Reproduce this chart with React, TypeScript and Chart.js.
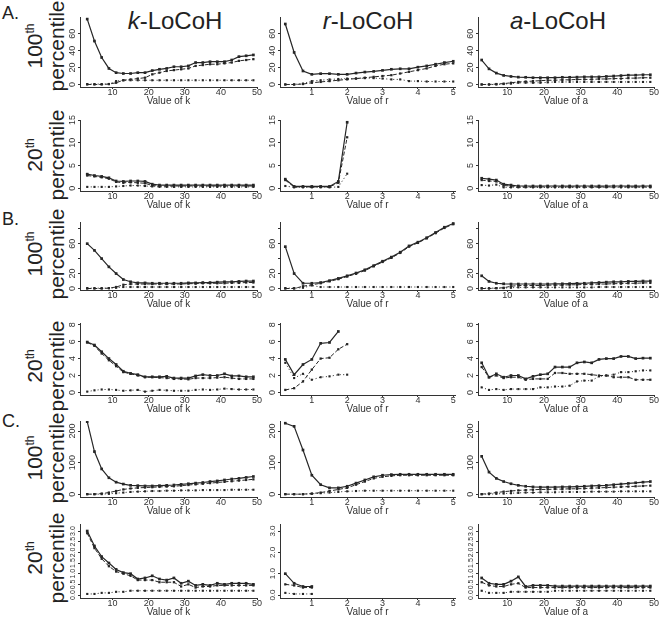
import React, { useEffect, useRef } from 'react';
import { Chart, registerables } from 'chart.js';
Chart.register(...registerables);

// ---------- x values ----------
const kValues = [3, 5, 7, 9, 11, 13, 15, 17, 19, 21, 23, 25, 27, 29, 31, 33, 35, 37, 39, 41, 43, 45, 47, 49];
const rValues = [0.25, 0.5, 0.75, 1, 1.25, 1.5, 1.75, 2, 2.25, 2.5, 2.75, 3, 3.25, 3.5, 3.75, 4, 4.25, 4.5, 4.75, 5];
const aValues = [3, 5, 7, 9, 11, 13, 15, 17, 19, 21, 23, 25, 27, 29, 31, 33, 35, 37, 39, 41, 43, 45, 47, 49];

// ---------- tick values / labels ----------
const kTicks = [10, 20, 30, 40, 50];
const kTickLabels = ['10', '20', '30', '40', '50'];
const rTicks = [1, 2, 3, 4, 5];
const rTickLabels = ['1', '2', '3', '4', '5'];
const aTicks = [10, 20, 30, 40, 50];
const aTickLabels = ['10', '20', '30', '40', '50'];

const yTicksA100 = [0, 20, 40, 60];
const yLabelsA100 = ['0', '20', '40', '60'];
const yTicksA20 = [0, 5, 10, 15];
const yLabelsA20 = ['0', '5', '10', '15'];
const yTicksB100 = [0, 20, 40, 60, 80];
const yLabelsB100 = ['0', '20', '', '60', ''];
const yTicksB20 = [0, 2, 4, 6, 8];
const yLabelsB20 = ['0', '2', '4', '6', '8'];
const yTicksC100 = [0, 100, 200];
const yLabelsC100 = ['0', '100', '200'];
const yTicksC20 = [0, 0.5, 1, 1.5, 2, 2.5, 3];
const yLabelsC20 = ['0.0', '0.5', '1.0', '1.5', '2.0', '2.5', '3.0'];
const yTicksC20r = [0, 1, 2, 3];
const yLabelsC20r = ['0.0', '1.0', '2.0', '3.0'];

// ---------- A: 100th percentile ----------
const kA100Solid = [77.5, 51.5, 32, 19, 14, 13, 13, 14, 14, 16.5, 18, 19, 21, 21, 22, 26, 26, 27, 27, 27, 29, 33, 34, 35];
const kA100Dashed = [0, 0, 0, 0.5, 2, 5, 6, 7, 8, 12, 14, 16, 17, 18, 19, 22, 23, 24, 24, 25, 26, 28, 29, 30];
const kA100Dotted = [0.5, 0.5, 0.5, 0.5, 4, 5, 5, 5, 5, 5, 5, 5, 5, 5, 5, 5, 5, 5, 5, 5, 5, 5, 5, 5];
const rA100Solid = [71.7, 38, 16, 12, 12.8, 12.8, 12, 12, 13.5, 14.7, 15.5, 16.7, 18, 18.6, 18.6, 20.5, 22, 24, 26, 27.5];
const rA100Dashed = [0, 0, 0.5, 2, 3, 4, 5, 6, 7, 8, 9, 10, 11, 13, 15, 17, 19, 22, 24, 25];
const rA100Dotted = [0, 0, 1, 4, 5, 6, 6.5, 7, 7, 7.5, 7.5, 7, 6, 6, 4, 4, 3.5, 3.5, 3.5, 3.5];
const aA100Solid = [29, 18.5, 13.5, 10.7, 9.5, 8.7, 8.5, 8, 8, 8, 8, 8.5, 8.5, 8.7, 9, 9, 9, 9.5, 10, 10.5, 11, 11, 11.5, 11.5];
const aA100Dashed = [0, 0, 0.5, 1, 2, 3, 3.5, 4, 4.5, 5, 5, 5.5, 5.5, 6, 6, 6, 6.5, 6.5, 7, 7, 7.5, 7.5, 8, 8];
const aA100Dotted = [0, 0, 0, 0.5, 1, 2, 2, 2, 2, 2.5, 3, 3, 3, 3, 3, 3, 3, 3, 3, 3, 3, 3, 3, 3];

// ---------- A: 20th percentile ----------
const kA20Solid = [3.1, 2.8, 2.6, 2.3, 1.6, 1.5, 1.6, 1.6, 1.5, 0.9, 0.7, 0.7, 0.7, 0.7, 0.7, 0.7, 0.7, 0.7, 0.7, 0.7, 0.7, 0.7, 0.7, 0.7];
const kA20Dashed = [2.8, 2.6, 2.4, 2.1, 1.4, 1.2, 1.3, 1.2, 1.1, 0.6, 0.5, 0.5, 0.5, 0.5, 0.5, 0.5, 0.5, 0.5, 0.5, 0.5, 0.5, 0.5, 0.5, 0.5];
const kA20Dotted = [0.3, 0.3, 0.3, 0.3, 0.4, 0.5, 0.6, 0.6, 0.5, 0.4, 0.3, 0.3, 0.3, 0.3, 0.3, 0.3, 0.3, 0.3, 0.3, 0.3, 0.3, 0.3, 0.3, 0.3];
const rA20Solid = [2.0, 0.4, 0.4, 0.4, 0.4, 0.4, 1.5, 14.5];
const rA20Dashed = [1.8, 0.3, 0.3, 0.3, 0.3, 0.3, 1.2, 11.2];
const rA20Dotted = [0.5, 0.2, 0.2, 0.2, 0.2, 0.2, 0.3, 3.2];
const aA20Solid = [2.2, 2.0, 1.8, 0.9, 0.7, 0.5, 0.5, 0.5, 0.5, 0.5, 0.5, 0.5, 0.5, 0.5, 0.5, 0.5, 0.5, 0.5, 0.5, 0.5, 0.5, 0.5, 0.5, 0.5];
const aA20Dashed = [1.8, 1.6, 1.5, 0.6, 0.5, 0.3, 0.3, 0.3, 0.3, 0.3, 0.3, 0.3, 0.3, 0.3, 0.3, 0.3, 0.3, 0.3, 0.3, 0.3, 0.3, 0.3, 0.3, 0.3];
const aA20Dotted = [0.7, 0.6, 0.8, 0.2, 0.2, 0.2, 0.2, 0.2, 0.2, 0.2, 0.2, 0.2, 0.2, 0.2, 0.2, 0.2, 0.2, 0.2, 0.2, 0.2, 0.2, 0.2, 0.2, 0.2];

// ---------- B: 100th percentile ----------
const kB100Solid = [60, 51, 40, 29, 20, 12, 9, 7.5, 7.5, 7, 7, 7, 7, 7, 7.5, 7.5, 8, 8, 8.5, 9, 9, 9.5, 10, 10];
const kB100Dashed = [0, 0, 0, 0.5, 2, 5, 6, 6, 6, 6, 6, 6, 6, 6, 6.5, 6.5, 7, 7, 7, 7, 7.5, 7.5, 8, 8];
const kB100Dotted = [0.5, 0.5, 0.5, 0.5, 1, 2, 2, 2, 2, 2, 2, 2, 2, 2, 2, 2, 2, 2, 2, 2, 2, 2, 2, 2];
const rB100Solid = [56, 20, 7, 7, 8, 10.5, 13.5, 17, 20.7, 25, 30.6, 36.5, 42, 48.6, 57, 62, 68, 75, 82, 87];
const rB100Dashed = [0, 0, 3, 5, 7, 9.5, 12.5, 16, 19.7, 24, 29.6, 35.5, 41, 47.6, 56, 61, 67, 74, 81, 86];
const rB100Dotted = [0.5, 0.5, 1, 4, 2, 2, 2, 2, 2, 2, 2, 2, 2, 2, 2, 2, 2, 2, 2, 2];
const aB100Solid = [17, 9.5, 7, 6.3, 6, 6, 6, 6, 6, 6, 6.3, 6.3, 6.5, 6.8, 7, 7.5, 8, 8.5, 9, 9, 9.5, 9.5, 10, 10];
const aB100Dashed = [0, 0, 0.5, 1, 3, 4, 4, 4, 4, 4.5, 4.5, 4.5, 5, 5, 5.5, 5.5, 6, 6, 6.5, 6.5, 7, 7, 7.5, 7.5];
const aB100Dotted = [0.5, 0.5, 0.5, 0.5, 1, 1.5, 1.5, 1.5, 1.5, 1.5, 1.5, 1.5, 1.5, 1.5, 1.5, 1.5, 2, 2, 2, 2, 2, 2, 2, 2];

// ---------- B: 20th percentile ----------
const kB20Solid = [5.95, 5.6, 4.8, 4.0, 3.3, 2.5, 2.25, 2.1, 1.85, 1.85, 1.85, 1.9, 1.7, 1.7, 1.7, 1.95, 2.1, 2.0, 2.0, 2.2, 1.95, 1.95, 1.85, 1.85];
const kB20Dashed = [5.9, 5.5, 4.6, 3.8, 3.1, 2.4, 2.2, 2.0, 1.8, 1.8, 1.75, 1.7, 1.6, 1.6, 1.55, 1.7, 1.7, 1.7, 1.75, 1.8, 1.7, 1.6, 1.6, 1.6];
const kB20Dotted = [0.1, 0.25, 0.35, 0.35, 0.3, 0.2, 0.25, 0.3, 0.1, 0.2, 0.3, 0.25, 0.2, 0.2, 0.2, 0.3, 0.35, 0.3, 0.35, 0.45, 0.4, 0.35, 0.35, 0.35];
const rB20Solid = [3.9, 2.1, 3.3, 3.9, 5.8, 5.9, 7.2];
const rB20Dashed = [0.3, 0.5, 1.3, 2.7, 4.0, 4.1, 5.1, 5.7];
const rB20Dotted = [3.5, 1.7, 2.2, 1.5, 1.8, 1.9, 2.1, 2.1];
const aB20Solid = [3.5, 1.8, 2.2, 1.8, 2.0, 2.0, 1.6, 1.9, 2.1, 2.2, 3.0, 3.0, 3.0, 3.5, 3.6, 3.5, 3.9, 4.0, 4.0, 4.25, 4.25, 4.0, 4.05, 4.05];
const aB20Dashed = [3.0, 1.8, 2.0, 1.7, 1.8, 1.8, 1.5, 1.6, 1.6, 1.6, 2.3, 2.3, 2.2, 2.2, 2.2, 2.1, 2.0, 2.0, 1.8, 1.8, 1.8, 1.5, 1.5, 1.5];
const aB20Dotted = [0.6, 0.3, 0.4, 0.3, 0.4, 0.4, 0.4, 0.4, 0.6, 0.6, 0.7, 0.7, 0.8, 1.3, 1.4, 1.4, 1.9, 2.0, 2.1, 2.4, 2.4, 2.5, 2.6, 2.6];

// ---------- C: 100th percentile ----------
const kC100Solid = [230, 135, 80, 52, 38, 32, 28, 27, 26, 26, 27, 28, 29, 31, 33, 35, 37, 40, 42, 45, 48, 50, 53, 56];
const kC100Dashed = [0, 0, 2, 5, 10, 15, 18, 20, 21, 22, 23, 24, 25, 27, 29, 31, 33, 35, 37, 39, 41, 43, 45, 47];
const kC100Dotted = [0, 0, 0, 1, 3, 5, 7, 8, 9, 10, 10, 11, 11, 12, 12, 12, 13, 13, 13, 13, 14, 14, 14, 14];
const rC100Solid = [225, 215, 140, 60, 30, 20, 20, 25, 35, 45, 55, 60, 62, 63, 63, 63, 63, 63, 63, 63];
const rC100Dashed = [0, 0, 0, 2, 5, 10, 15, 20, 30, 40, 50, 55, 58, 60, 60, 60, 60, 60, 60, 60];
const rC100Dotted = [0, 0, 0, 1, 3, 5, 7, 9, 10, 11, 11, 11, 11, 11, 11, 11, 11, 11, 11, 11];
const aC100Solid = [120, 70, 50, 40, 33, 28, 25, 23, 22, 22, 22, 23, 23, 24, 25, 26, 27, 28, 30, 32, 34, 36, 38, 40];
const aC100Dashed = [0, 2, 5, 8, 10, 12, 13, 14, 15, 15, 16, 16, 17, 17, 18, 19, 20, 21, 22, 23, 24, 25, 26, 27];
const aC100Dotted = [0, 0, 1, 2, 3, 4, 5, 5, 6, 6, 6, 7, 7, 7, 7, 8, 8, 8, 8, 9, 9, 9, 9, 9];

// ---------- C: 20th percentile ----------
const kC20Solid = [3.0, 2.3, 1.8, 1.5, 1.2, 1.05, 1.0, 0.75, 0.8, 0.9, 0.75, 0.7, 0.8, 0.55, 0.65, 0.45, 0.5, 0.45, 0.55, 0.5, 0.55, 0.55, 0.55, 0.5];
const kC20Dashed = [2.9, 2.2, 1.7, 1.35, 1.1, 1.0, 0.9, 0.7, 0.7, 0.7, 0.6, 0.6, 0.6, 0.4, 0.5, 0.35, 0.4, 0.4, 0.45, 0.45, 0.45, 0.45, 0.45, 0.45];
const kC20Dotted = [0.05, 0.05, 0.1, 0.1, 0.15, 0.15, 0.2, 0.2, 0.2, 0.2, 0.2, 0.2, 0.2, 0.2, 0.2, 0.2, 0.2, 0.2, 0.2, 0.2, 0.2, 0.2, 0.2, 0.2];
const rC20Solid = [1.0, 0.55, 0.4, 0.4];
const rC20Dashed = [0.5, 0.45, 0.35, 0.35];
const rC20Dotted = [0.1, 0.05, 0.05, 0.05];
const aC20Solid = [0.8, 0.55, 0.5, 0.5, 0.65, 0.85, 0.4, 0.45, 0.45, 0.45, 0.42, 0.42, 0.42, 0.42, 0.42, 0.42, 0.42, 0.42, 0.42, 0.42, 0.42, 0.42, 0.42, 0.42];
const aC20Dashed = [0.6, 0.45, 0.4, 0.4, 0.5, 0.55, 0.35, 0.35, 0.35, 0.35, 0.35, 0.35, 0.35, 0.35, 0.35, 0.35, 0.35, 0.35, 0.35, 0.35, 0.35, 0.35, 0.35, 0.35];
const aC20Dotted = [0.2, 0.1, 0.1, 0.1, 0.15, 0.15, 0.15, 0.15, 0.15, 0.15, 0.2, 0.2, 0.2, 0.2, 0.2, 0.2, 0.2, 0.2, 0.2, 0.2, 0.2, 0.2, 0.2, 0.2];

// ---------- layout ----------
const FONT = '"Liberation Sans", Arial, Helvetica, sans-serif';
const INK = '#262626';
const COLS = {
  k: { left: 80, right: 257, xMin: 1, xMax: 50, xs: kValues, ticks: kTicks, labels: kTickLabels, title: 'Value of k' },
  r: { left: 280, right: 455, xMin: 0.1, xMax: 5.05, xs: rValues, ticks: rTicks, labels: rTickLabels, title: 'Value of r' },
  a: { left: 478, right: 654, xMin: 2, xMax: 50, xs: aValues, ticks: aTicks, labels: aTickLabels, title: 'Value of a' },
};
const ROWS = {
  A100: { top: 17, bottom: 87, yMin: -3, yMax: 80, ticks: yTicksA100, labels: yLabelsA100, labelFont: 9 },
  A20: { top: 120, bottom: 191, yMin: -0.6, yMax: 15, ticks: yTicksA20, labels: yLabelsA20, labelFont: 9 },
  B100: { top: 222, bottom: 290, yMin: -2, yMax: 89, ticks: yTicksB100, labels: yLabelsB100, labelFont: 9 },
  B20: { top: 323, bottom: 395, yMin: -0.3, yMax: 8.2, ticks: yTicksB20, labels: yLabelsB20, labelFont: 9 },
  C100: { top: 421, bottom: 497, yMin: -9, yMax: 232, ticks: yTicksC100, labels: yLabelsC100, labelFont: 9 },
  C20: { top: 524, bottom: 598, yMin: -0.14, yMax: 3.33, ticks: yTicksC20, labels: yLabelsC20, labelFont: 7 },
};

type PanelSpec = { col: keyof typeof COLS; row: keyof typeof ROWS; series: number[][]; yTicks?: number[]; yLabels?: string[]; labelFont?: number };

const PANELS: PanelSpec[] = [
  { col: 'k', row: 'A100', series: [kA100Solid, kA100Dashed, kA100Dotted] },
  { col: 'r', row: 'A100', series: [rA100Solid, rA100Dashed, rA100Dotted] },
  { col: 'a', row: 'A100', series: [aA100Solid, aA100Dashed, aA100Dotted] },
  { col: 'k', row: 'A20', series: [kA20Solid, kA20Dashed, kA20Dotted] },
  { col: 'r', row: 'A20', series: [rA20Solid, rA20Dashed, rA20Dotted] },
  { col: 'a', row: 'A20', series: [aA20Solid, aA20Dashed, aA20Dotted] },
  { col: 'k', row: 'B100', series: [kB100Solid, kB100Dashed, kB100Dotted] },
  { col: 'r', row: 'B100', series: [rB100Solid, rB100Dashed, rB100Dotted] },
  { col: 'a', row: 'B100', series: [aB100Solid, aB100Dashed, aB100Dotted] },
  { col: 'k', row: 'B20', series: [kB20Solid, kB20Dashed, kB20Dotted] },
  { col: 'r', row: 'B20', series: [rB20Solid, rB20Dashed, rB20Dotted] },
  { col: 'a', row: 'B20', series: [aB20Solid, aB20Dashed, aB20Dotted] },
  { col: 'k', row: 'C100', series: [kC100Solid, kC100Dashed, kC100Dotted] },
  { col: 'r', row: 'C100', series: [rC100Solid, rC100Dashed, rC100Dotted] },
  { col: 'a', row: 'C100', series: [aC100Solid, aC100Dashed, aC100Dotted] },
  { col: 'k', row: 'C20', series: [kC20Solid, kC20Dashed, kC20Dotted] },
  { col: 'r', row: 'C20', series: [rC20Solid, rC20Dashed, rC20Dotted], yTicks: yTicksC20r, yLabels: yLabelsC20r, labelFont: 8 },
  { col: 'a', row: 'C20', series: [aC20Solid, aC20Dashed, aC20Dotted] },
];

const YW = 24, PR = 8, PT = 6, XH = 20;

function Panel({ spec }: { spec: PanelSpec }) {
  const ref = useRef<HTMLCanvasElement>(null);
  const c = COLS[spec.col];
  const r = ROWS[spec.row];
  const yTicks = spec.yTicks || r.ticks;
  const yLabels = spec.yLabels || r.labels;
  const yFont = spec.labelFont || r.labelFont;
  const cl = c.left - YW, cw = c.right - c.left + YW + PR;
  const ct = r.top - PT, ch = r.bottom - r.top + PT + XH;

  useEffect(() => {
    const styles = [
      { dash: [], width: 1.2, radius: 1.9 },
      { dash: [4, 2], width: 1, radius: 1.6 },
      { dash: [1, 2.5], width: 1, radius: 1.5 },
    ];
    const datasets = spec.series.map((s, i) => ({
      data: s.map((y, j) => ({ x: c.xs[j], y })),
      borderColor: INK,
      backgroundColor: INK,
      borderWidth: styles[i].width,
      borderDash: styles[i].dash,
      pointStyle: 'rect',
      pointRadius: styles[i].radius,
      pointBorderWidth: 0,
      pointBackgroundColor: INK,
      tension: 0,
      fill: false,
    }));
    const labelPlugin = {
      id: 'labels' + spec.col + spec.row,
      afterDraw(chart: any) {
        const ctx = chart.ctx;
        const area = chart.chartArea;
        const xs = chart.scales.x;
        const ys = chart.scales.y;
        ctx.save();
        ctx.fillStyle = '#333';
        ctx.textAlign = 'center';
        ctx.textBaseline = 'middle';
        ctx.font = '9px ' + FONT;
        c.ticks.forEach((v, i) => ctx.fillText(c.labels[i], xs.getPixelForValue(v), area.bottom + 6));
        ctx.font = '10px ' + FONT;
        ctx.fillText(c.title, (area.left + area.right) / 2, area.bottom + 14);
        ctx.font = yFont + 'px ' + FONT;
        yTicks.forEach((v, i) => {
          if (!yLabels[i]) return;
          ctx.save();
          ctx.translate(area.left - 7, ys.getPixelForValue(v));
          ctx.rotate(-Math.PI / 2);
          ctx.fillText(yLabels[i], 0, 0);
          ctx.restore();
        });
        ctx.restore();
      },
    };
    const chart = new Chart(ref.current as HTMLCanvasElement, {
      type: 'line',
      data: { datasets } as any,
      options: {
        animation: false,
        responsive: false,
        maintainAspectRatio: false,
        layout: { padding: { left: 0, right: PR, top: PT, bottom: 0 } },
        plugins: { legend: { display: false }, tooltip: { enabled: false }, title: { display: false } },
        scales: {
          x: {
            type: 'linear',
            min: c.xMin,
            max: c.xMax,
            ticks: { display: false },
            grid: { display: true, drawOnChartArea: false, drawTicks: true, tickLength: 2, color: '#333' },
            border: { display: true, color: '#333', width: 1 },
            afterBuildTicks: (scale: any) => { scale.ticks = c.ticks.map((v) => ({ value: v })); },
            afterFit: (scale: any) => { scale.height = XH; scale.paddingLeft = 0; scale.paddingRight = 0; },
          },
          y: {
            type: 'linear',
            min: r.yMin,
            max: r.yMax,
            ticks: { display: false },
            grid: { display: true, drawOnChartArea: false, drawTicks: true, tickLength: 2, color: '#333' },
            border: { display: true, color: '#333', width: 1 },
            afterBuildTicks: (scale: any) => { scale.ticks = yTicks.map((v) => ({ value: v })); },
            afterFit: (scale: any) => { scale.width = YW; scale.paddingTop = 0; scale.paddingBottom = 0; },
          },
        },
      } as any,
      plugins: [labelPlugin],
    });
    return () => chart.destroy();
  }, []);

  return (
    <canvas
      ref={ref}
      width={cw}
      height={ch}
      style={{ position: 'absolute', left: cl, top: ct, width: cw, height: ch }}
    />
  );
}

const colTitles = [
  { italic: 'k', rest: '-LoCoH', cx: 175 },
  { italic: 'r', rest: '-LoCoH', cx: 368 },
  { italic: 'a', rest: '-LoCoH', cx: 558 },
];
const rowLabels = [
  { num: '100', cy: 46 },
  { num: '20', cy: 155 },
  { num: '100', cy: 254 },
  { num: '20', cy: 366 },
  { num: '100', cy: 458 },
  { num: '20', cy: 558 },
];
const sectionLabels = [
  { text: 'A.', top: 4 },
  { text: 'B.', top: 210 },
  { text: 'C.', top: 412 },
];

export default function App() {
  return (
    <div style={{ position: 'absolute', left: 0, top: 0, width: 661, height: 620, background: '#fff', fontFamily: FONT, color: '#222' }}>
      {sectionLabels.map((s) => (
        <div key={s.text} style={{ position: 'absolute', left: 2, top: s.top, fontSize: 18, lineHeight: '18px' }}>{s.text}</div>
      ))}
      {colTitles.map((t) => (
        <div key={t.italic} style={{ position: 'absolute', left: t.cx - 70, top: 7, width: 140, textAlign: 'center', fontSize: 24, lineHeight: '28px' }}>
          <i>{t.italic}</i>{t.rest}
        </div>
      ))}
      {rowLabels.map((l, i) => (
        <div
          key={i}
          style={{
            position: 'absolute',
            left: 46,
            top: l.cy,
            transform: 'translate(-50%, -50%) rotate(-90deg)',
            textAlign: 'center',
            fontSize: 21,
            lineHeight: '22px',
            whiteSpace: 'nowrap',
          }}
        >
          <div>{l.num}<sup style={{ fontSize: 12, lineHeight: 0 }}>th</sup></div>
          <div>percentile</div>
        </div>
      ))}
      {PANELS.map((p, i) => (
        <Panel key={i} spec={p} />
      ))}
    </div>
  );
}
